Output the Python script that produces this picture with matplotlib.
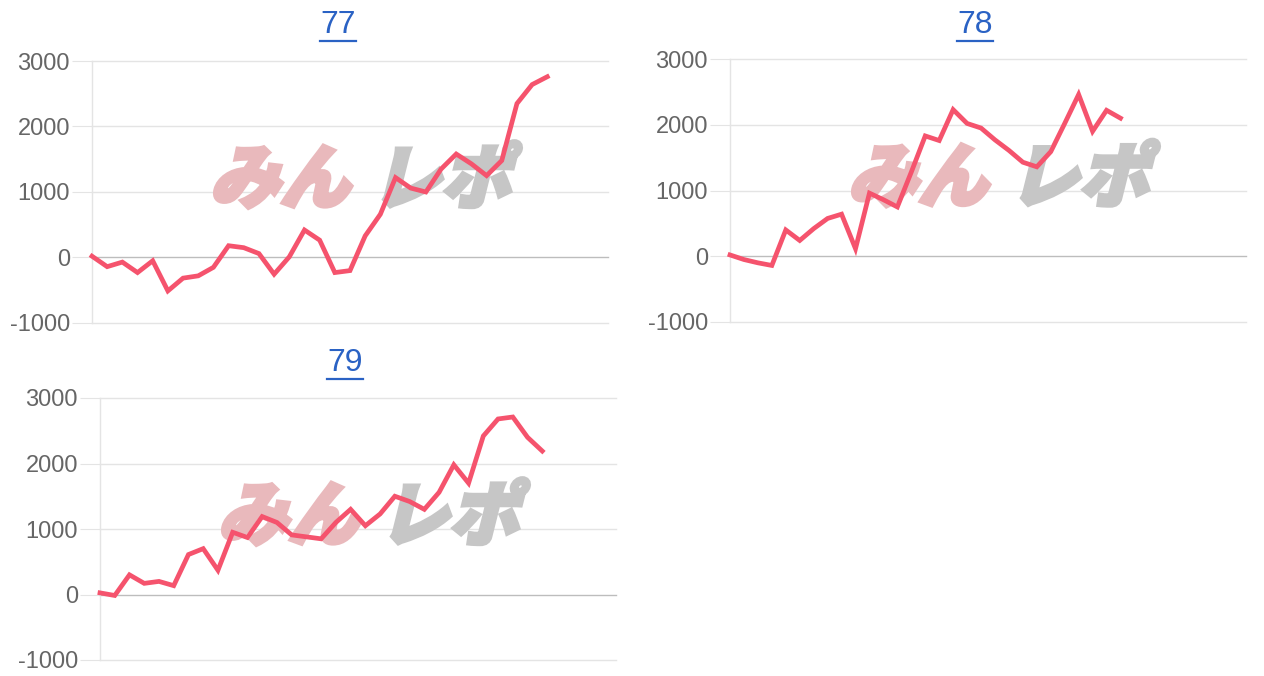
import matplotlib.pyplot as plt
from matplotlib.textpath import TextPath
from matplotlib.font_manager import FontProperties
from matplotlib.patches import PathPatch
from matplotlib.transforms import Affine2D
from matplotlib.lines import Line2D

# --- data ---
titles = ["77", "78", "79"]
series_77 = [20, -140, -70, -230, -50, -510, -315, -280, -150, 180, 150, 60, -255, 10,
             420, 265, -230, -200, 330, 660, 1220, 1060, 1000, 1350, 1580, 1430, 1250,
             1480, 2350, 2640, 2760]
series_78 = [20, -50, -100, -140, 400, 240, 420, 575, 640, 115, 960, 860, 750, 1280,
             1830, 1760, 2230, 2020, 1950, 1770, 1610, 1430, 1360, 1590, 2020, 2460,
             1900, 2220, 2100]
series_79 = [25, -15, 300, 170, 200, 135, 610, 700, 370, 950, 870, 1190, 1100, 910,
             880, 850, 1100, 1300, 1050, 1230, 1500, 1420, 1300, 1560, 1980, 1700, 2420,
             2680, 2710, 2400, 2190]
x_slots = [34, 37, 35]
y_ticks = [-1000, 0, 1000, 2000, 3000]

LINE = "#f5536d"
GRID = "#e4e4e4"
ZERO = "#bdbdbd"
TICKTXT = "#666666"
LINK = "#2a62c4"

plt.rcParams["font.family"] = ["Liberation Sans", "DejaVu Sans"]

W, H = 1264, 676
fig = plt.figure(figsize=(W / 100, H / 100), dpi=100)

# axes boxes in pixels: left, right, top, bottom
boxes = [(92, 608, 61, 323), (730, 1246, 59, 322), (100, 616, 398, 660)]
title_pos = [(338, 25), (975, 25), (345, 363)]
all_series = [series_77, series_78, series_79]

wm_font = FontProperties(family="Noto Sans CJK JP", weight="heavy")


def watermark(ax, wpx, hpx):
    # "みんレポ" logo drawn as slanted text behind the line
    em = 70.0
    for txt, color, x0 in [("みん", "#e9b9bc", 0.228), ("レポ", "#c6c6c6", 0.54)]:
        tp = TextPath((0, 0), txt, size=1, prop=wm_font)
        tr = (Affine2D().skew_deg(14, 0).scale(em / wpx, em / hpx)
              .translate(x0, 0.46) + ax.transAxes)
        ax.add_patch(PathPatch(tp, transform=tr, facecolor=color, edgecolor=color,
                               lw=3.0, joinstyle="miter", zorder=1, clip_on=False))


for (l, r, t, b), (tx, ty), title, data, nx in zip(boxes, title_pos, titles,
                                                   all_series, x_slots):
    ax = fig.add_axes([l / W, 1 - b / H, (r - l) / W, (b - t) / H])
    ax.set_xlim(0, nx)
    ax.set_ylim(-1000, 3000)
    ax.set_yticks(y_ticks)
    ax.set_yticklabels([str(v) for v in y_ticks])
    ax.set_xticks([])
    for v in y_ticks:
        ax.axhline(v, color=ZERO if v == 0 else GRID, lw=1.0, zorder=0.5, clip_on=False)
    for s in ["top", "right", "bottom"]:
        ax.spines[s].set_visible(False)
    ax.spines["left"].set_color(GRID)
    ax.spines["left"].set_linewidth(1.0)
    ax.tick_params(axis="y", length=14.4, width=0.8, color=GRID, pad=1.5,
                   labelsize=17, labelcolor=TICKTXT)
    watermark(ax, r - l, b - t)
    ax.plot(range(len(data)), data, color=LINE, lw=3.4, solid_joinstyle="miter",
            zorder=3, clip_on=False)

    txt = fig.text(tx / W, 1 - ty / H, title, ha="center", va="center",
                   fontsize=23, color=LINK)
    fig.canvas.draw()
    bb = txt.get_window_extent()
    uy = bb.y0 - 1
    fig.add_artist(Line2D([bb.x0 / W, bb.x1 / W], [uy / H, uy / H],
                          color=LINK, lw=1.6, transform=fig.transFigure))

fig.savefig("out.png", dpi=100)
